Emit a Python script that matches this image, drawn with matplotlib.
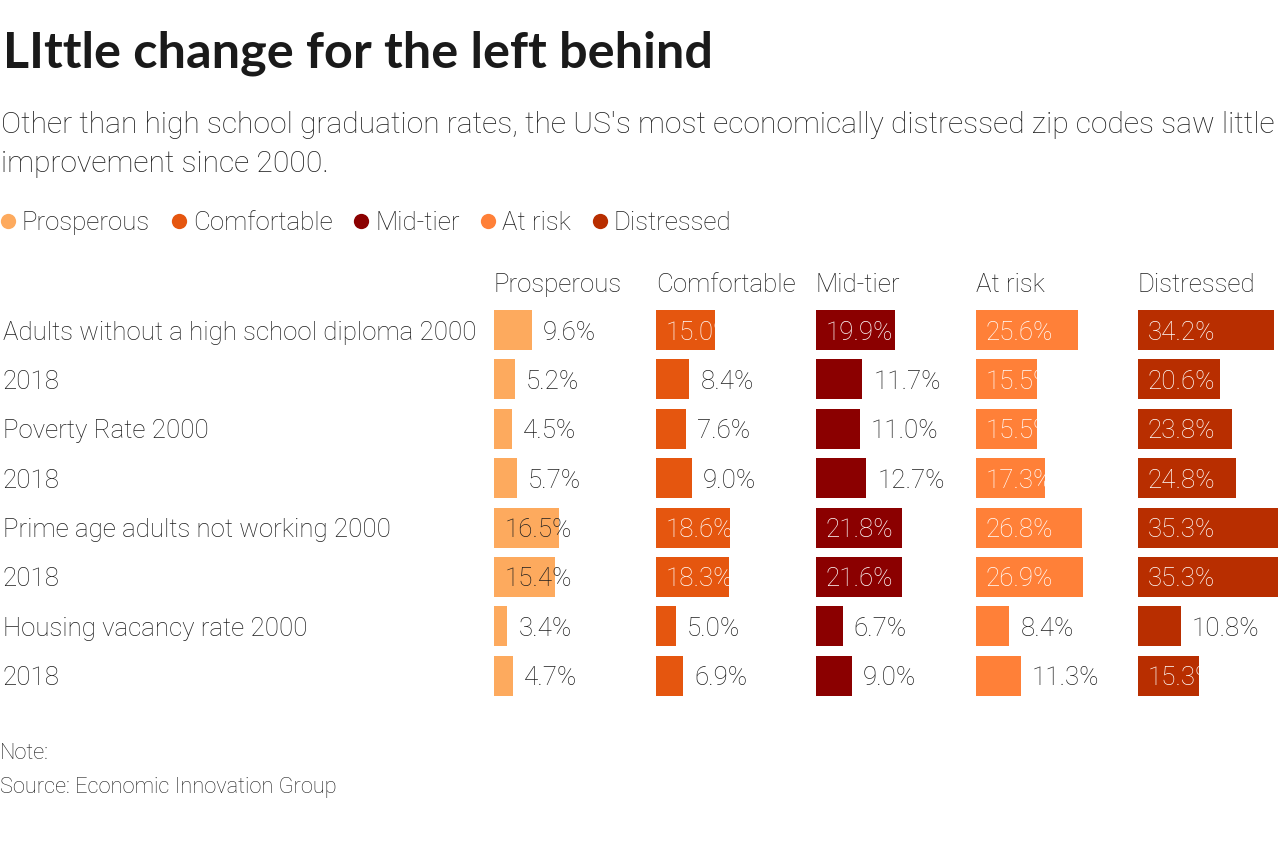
import matplotlib
matplotlib.use("Agg")
import matplotlib.pyplot as plt
from matplotlib.lines import Line2D
from matplotlib.transforms import blended_transform_factory

# data
rows = ["Adults without a high school diploma 2000", "2018",
        "Poverty Rate 2000", "2018",
        "Prime age adults not working 2000", "2018",
        "Housing vacancy rate 2000", "2018"]
tiers = ["Prosperous", "Comfortable", "Mid-tier", "At risk", "Distressed"]
prosperous = [9.6, 5.2, 4.5, 5.7, 16.5, 15.4, 3.4, 4.7]
comfortable = [15.0, 8.4, 7.6, 9.0, 18.6, 18.3, 5.0, 6.9]
mid_tier = [19.9, 11.7, 11.0, 12.7, 21.8, 21.6, 6.7, 9.0]
at_risk = [25.6, 15.5, 15.5, 17.3, 26.8, 26.9, 8.4, 11.3]
distressed = [34.2, 20.6, 23.8, 24.8, 35.3, 35.3, 10.8, 15.3]
series = [prosperous, comfortable, mid_tier, at_risk, distressed]

colors = ["#fdaa5e", "#e5560f", "#8b0000", "#ff8038", "#b82e00"]
TXT = "#1e1e1e"
FONT = "Roboto"
LW = "light"

W, H = 1288, 842
fig = plt.figure(figsize=(W / 100, H / 100), dpi=100)
renderer = fig.canvas.get_renderer()


def fit_size(text, width_px, family=FONT, weight=LW, base=20.0):
    t = fig.text(0, 0, text, fontsize=base, family=family, weight=weight)
    w = t.get_window_extent(renderer).width
    t.remove()
    return base * width_px / w


def fy(px):
    return 1 - px / H


title_fs = fit_size("LIttle change for the left behind", 710, family="Lato", weight="bold")
sub_fs = fit_size("Other than high school graduation rates, the US's most "
                  "economically distressed zip codes saw little", 1274)
lab_fs = fit_size(rows[0], 473)
note_fs = fit_size("Source: Economic Innovation Group", 338)

fig.text(0.002, fy(68), "LIttle change for the left behind", fontsize=title_fs,
         family="Lato", weight="bold", color="#1a1a1a", va="baseline")
fig.text(0.001, fy(133), "Other than high school graduation rates, the US's most "
         "economically distressed zip codes saw little", fontsize=sub_fs,
         family=FONT, weight=LW, color=TXT, va="baseline")
fig.text(0.001, fy(172), "improvement since 2000.", fontsize=sub_fs,
         family=FONT, weight=LW, color=TXT, va="baseline")

# legend
handles = [Line2D([], [], marker="o", ls="none", ms=11, mfc=c, mec="none")
           for c in colors]
fig.legend(handles, tiers, loc="center left", bbox_to_anchor=(-0.008, fy(223)),
           ncol=5, frameon=False, handlelength=0.6, handletextpad=0.25,
           columnspacing=0.8, borderaxespad=0,
           prop={"family": FONT, "weight": LW, "size": lab_fs},
           labelcolor=TXT)

# small multiples
col_x = [494, 656, 816, 976, 1138]
col_w = 140
xmax = 35.3
row_h = 49.4
top = 305.3
bot = top + row_h * len(rows)

axes = []
for k, (name, vals, c) in enumerate(zip(tiers, series, colors)):
    ax = fig.add_axes([col_x[k] / W, fy(bot), col_w / W, (bot - top) / H])
    axes.append(ax)
    ax.set_xlim(0, xmax)
    ax.set_ylim(len(rows) - 0.5, -0.5)
    ax.axis("off")
    bars = ax.barh(range(len(rows)), vals, height=0.81, color=c)
    ax.set_title(name, loc="left", pad=9.5, fontsize=lab_fs, family=FONT,
                 weight=LW, color=TXT)
    for i, (v, b) in enumerate(zip(vals, bars)):
        s = "{0:.1f}%".format(v)
        if v >= 14:
            if k == 0:
                ax.annotate(s, (0, i), xytext=(8, 0), textcoords="offset points",
                            va="center_baseline", ha="left", fontsize=lab_fs,
                            family=FONT, weight=LW, color=TXT)
            else:
                t = ax.annotate(s, (0, i), xytext=(7, 0), textcoords="offset points",
                                va="center_baseline", ha="left", fontsize=lab_fs,
                                family=FONT, weight=LW, color="white")
                t.set_clip_path(b)
        else:
            ax.annotate(s, (v, i), xytext=(8, 0), textcoords="offset points",
                        va="center_baseline", ha="left", fontsize=lab_fs,
                        family=FONT, weight=LW, color=TXT, annotation_clip=False)

tr = blended_transform_factory(fig.transFigure, axes[0].transData)
for i, r in enumerate(rows):
    axes[0].text(0.002, i, r, transform=tr, va="center_baseline", ha="left",
                 fontsize=lab_fs, family=FONT, weight=LW, color=TXT)

fig.text(0.0, fy(759), "Note:", fontsize=note_fs, family=FONT, weight=LW,
         color=TXT, va="baseline")
fig.text(0.0, fy(793), "Source: Economic Innovation Group", fontsize=note_fs,
         family=FONT, weight=LW, color=TXT, va="baseline")

fig.savefig("out.png", dpi=100, facecolor="white")
